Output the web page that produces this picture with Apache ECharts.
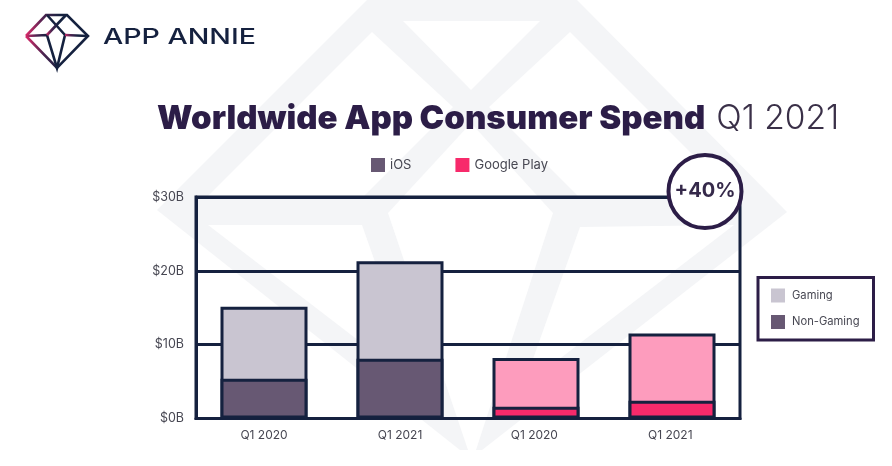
<!DOCTYPE html>
<html><head><meta charset="utf-8">
<style>html,body{margin:0;padding:0;background:#fff}#c{width:892px;height:466px}</style>
<script src="https://cdn.jsdelivr.net/npm/echarts@6/dist/echarts.min.js"></script>
</head><body><div id="c"></div><script>
const categories = ['Q1 2020','Q1 2021','Q1 2020 ','Q1 2021 '];
const nonGaming = [5.4, 8.1, 1.6, 2.4];
const gaming = [9.75, 13.2, 6.6, 9.1];
const nonGamingColors = ['#675873','#675873','#f72a6b','#f72a6b'];
const gamingColors = ['#c9c5d1','#c9c5d1','#fd9cbd','#fd9cbd'];
const yTicks = [0,10,20,30];
const titleMain = 'Worldwide App Consumer Spend';
const titleSub = 'Q1 2021';
const brand = 'APP ANNIE';
const badge = '+40%';

const NAVY = '#15213f', PLUM = '#2c1d47', TEXT = '#474752', WM = '#f4f5f7';
const chart = echarts.init(document.getElementById('c'));

const poly = (points, fill, z) => ({type:'polygon', silent:true, z, shape:{points}, style:{fill}});
const wmWhite = [
  [[403,21],[540,21],[471,90]],
  [[372,32],[453,107],[363,197],[207,197]],
  [[570,32],[489,107],[579,197],[735,197]],
  [[471,123],[553,213],[476,450],[468,450],[388,213]],
  [[208,225],[362,225],[419,387]],
  [[580,227],[734,225],[523,387]]
];
const logoLines = [
  [[26,36],[46,15],[67,15],[88,36],[57,68],[26,36]],
  [[47,15],[65,35],[57,68],[47,35],[26,36]],
  [[66,15],[47,35]],
  [[65,35],[88,36]]
];
const logoGrad = {type:'linear', x:0, y:0, x2:1, y2:0, global:false,
  colorStops:[{offset:0,color:'#ef2a6d'},{offset:0.3,color:'#4a2450'},{offset:0.55,color:NAVY},{offset:1,color:NAVY}]};

const barCommon = {type:'bar', barWidth:87, barGap:'-100%'};

chart.setOption({
  animation:false,
  backgroundColor:'#fff',
  title:{
    left:157, top:102, padding:0,
    text:`{a|${titleMain}}{b|${titleSub}}`,
    textStyle:{rich:{
      a:{fontFamily:'Inter',fontWeight:900,fontSize:33,color:PLUM},
      b:{fontFamily:'Inter',fontWeight:300,fontSize:33.5,color:'#3a3048',padding:[0,0,0,11]}
    }}
  },
  legend:[
    {data:['iOS','Google Play'], left:371, top:158, itemWidth:14, itemHeight:14, itemGap:44, selectedMode:false,
     icon:'rect', padding:0, itemStyle:{borderWidth:0},
     textStyle:{fontFamily:'Inter',fontSize:13,color:TEXT}},
    {data:['Gaming','Non-Gaming'], orient:'vertical', left:758, top:277.5, itemWidth:14, itemHeight:14, itemGap:12.5, selectedMode:false,
     icon:'rect', padding:[11,14,11,13], backgroundColor:'#fff', borderColor:PLUM, borderWidth:3, itemStyle:{borderWidth:0},
     textStyle:{fontFamily:'Inter',fontSize:11.2,color:TEXT,padding:[0,0,0,2]}}
  ],
  grid:{left:196, right:152, top:197, bottom:47.5, show:true, backgroundColor:'transparent', borderColor:NAVY, borderWidth:3},
  xAxis:{type:'category', data:categories, axisTick:{show:false},
    axisLine:{show:true, lineStyle:{color:NAVY, width:3}},
    axisLabel:{margin:11, fontFamily:'Inter', fontSize:12, color:TEXT}},
  yAxis:{type:'value', min:yTicks[0], max:yTicks[yTicks.length-1], interval:10,
    axisLine:{show:true, lineStyle:{color:NAVY, width:3}}, axisTick:{show:false},
    splitLine:{lineStyle:{color:NAVY, width:3}},
    axisLabel:{margin:12, fontFamily:'Inter', fontSize:12.5, color:TEXT, formatter:v=>`$${v}B`}},
  series:[
    {...barCommon, name:'Gaming', z:2,
     itemStyle:{color:'#c9c5d1', borderColor:NAVY, borderWidth:3},
     data:gaming.map((v,i)=>({value:v+nonGaming[i], itemStyle:{color:gamingColors[i]}}))},
    {...barCommon, name:'Non-Gaming', z:3,
     itemStyle:{color:'#675873', borderColor:NAVY, borderWidth:3},
     data:nonGaming.map((v,i)=>({value:v, itemStyle:{color:nonGamingColors[i]}}))},
    {...barCommon, name:'iOS', data:[], itemStyle:{color:'#675873'}},
    {...barCommon, name:'Google Play', data:[], itemStyle:{color:'#f72a6b'}}
  ],
  graphic:[
    poly([[367,0],[577,0],[787,212],[482,450],[460,450],[157,210]], WM, -10),
    ...wmWhite.map(p=>poly(p,'#fff',-9)),
    ...logoLines.map(l=>({type:'polyline', silent:true, z:5, shape:{points:l},
      style:{stroke:logoGrad, lineWidth:2.6, fill:'none', lineJoin:'miter'}})),
    {type:'text', silent:true, z:5, x:103, y:38, scaleX:1.36, style:{text:brand, fontFamily:'Inter', fontWeight:500, fontSize:21, fill:NAVY, textVerticalAlign:'middle'}},
    {type:'circle', silent:true, z:20, shape:{cx:705,cy:191.5,r:36.5}, style:{fill:'#fff', stroke:PLUM, lineWidth:4}},
    {type:'text', silent:true, z:21, x:705, y:191, style:{text:badge, fontFamily:'Inter', fontWeight:700, fontSize:20, fill:'#35294a', textAlign:'center', textVerticalAlign:'middle'}}
  ]
});
</script></body></html>
